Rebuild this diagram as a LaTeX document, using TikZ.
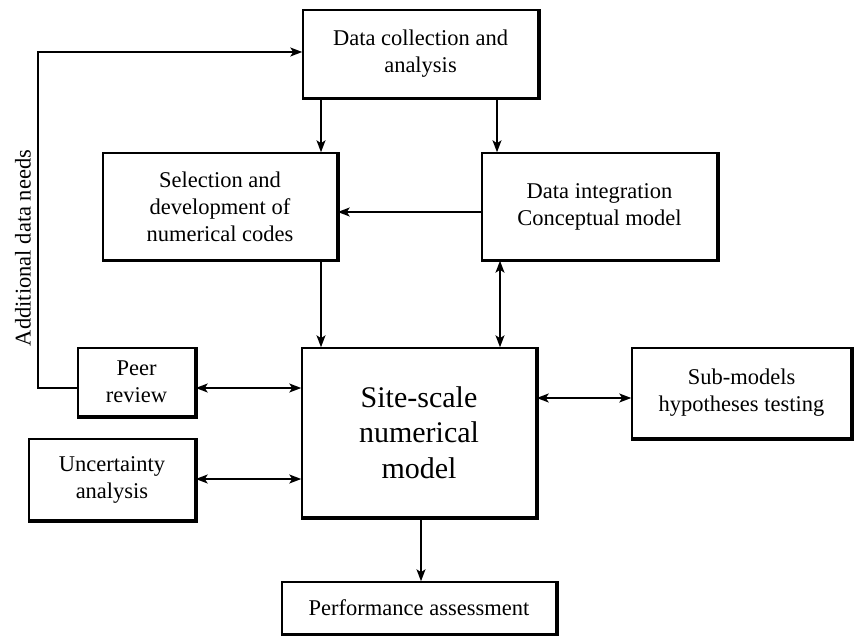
\documentclass[tikz,border=0pt]{standalone}
\usepackage{fontspec}
\setmainfont{Liberation Serif}
\usetikzlibrary{arrows.meta}
\begin{document}
\begin{tikzpicture}[x=1pt,y=-1pt,
  box/.style={draw, line width=1.5pt, align=center, inner sep=0pt, font=\fontsize{22.5}{27}\selectfont},
  conn/.style={line width=1.7pt},
  tip/.tip={Stealth[length=12pt,width=9pt,inset=3pt]},
  arr/.style={conn, -tip},
  darr/.style={conn, tip-tip},
  edgeline/.style={line width=3.5pt, line join=miter}]
\useasboundingbox (0,0) rectangle (856,636);

\node[box, minimum width=235pt, minimum height=88pt] (dc) at (420.5,54) {Data collection and\\analysis};
\node[box, minimum width=234pt, minimum height=107pt] (sel) at (220,206.5) {Selection and\\development of\\numerical codes};
\node[box, minimum width=235pt, minimum height=107pt] (di) at (599.5,206.5) {Data integration\\Conceptual model};
\node[box, minimum width=117pt, minimum height=68pt] (peer) at (136.5,382) {Peer\\review};
\node[box, minimum width=166pt, minimum height=81pt] (unc) at (112,479.5) {Uncertainty\\analysis};
\node[box, minimum width=234pt, minimum height=169pt, font=\fontsize{30}{35.5}\selectfont] (site) at (419,432.5) {Site-scale\\numerical\\model};
\node[box, minimum width=219pt, minimum height=90pt] (sub) at (741.5,393) {Sub-models\\hypotheses testing};
\node[box, minimum width=274pt, minimum height=52pt] (perf) at (419,608) {Performance assessment};

\foreach \n in {dc,sel,di,peer,unc,site,sub,perf}{
  \draw[edgeline] (\n.north east) -- (\n.south east) -- (\n.south west);
}

\node[rotate=90, inner sep=0pt, font=\fontsize{22.5}{27}\selectfont] (adn) at (23,248) {Additional data needs};

% feedback loop
\coordinate (fbb) at (38,388);
\coordinate (fbt) at (38,52);
\draw[arr] (peer.west |- fbb) -- (fbb) -- (fbt) -- (dc.west |- fbt);

% vertical arrows
\draw[arr] (321,0 |- dc.south) -- (321,0 |- sel.north);
\draw[arr] (497,0 |- dc.south) -- (497,0 |- di.north);
\draw[arr] (321,0 |- sel.south) -- (321,0 |- site.north);
\draw[darr] (500,0 |- site.north) -- (500,0 |- di.south);
\draw[arr] (421,0 |- site.south) -- (421,0 |- perf.north);

% horizontal arrows
\draw[arr] (di.west |- 0,212) -- (sel.east |- 0,212);
\draw[darr] (peer.east |- 0,388) -- (site.west |- 0,388);
\draw[darr] (unc.east |- 0,479) -- (site.west |- 0,479);
\draw[darr] (site.east |- 0,398) -- (sub.west |- 0,398);
\end{tikzpicture}
\end{document}
